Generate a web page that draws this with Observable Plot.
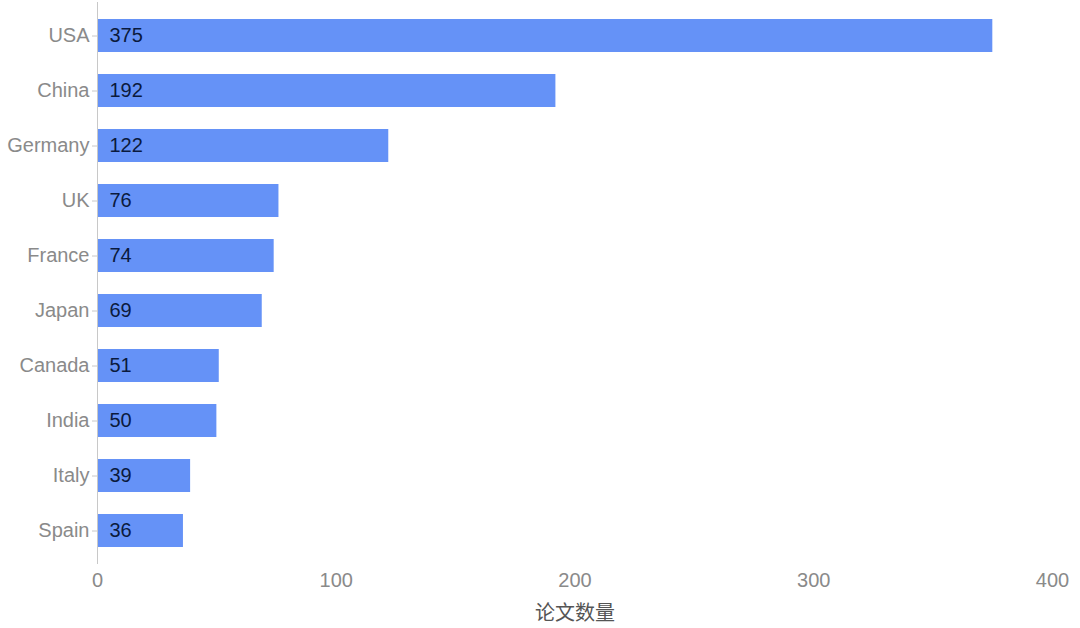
<!DOCTYPE html>
<html>
<head>
<meta charset="utf-8">
<script src="https://cdn.jsdelivr.net/npm/d3@7"></script>
<script src="https://cdn.jsdelivr.net/npm/@observablehq/plot@0.6"></script>
<style>
  html, body { margin: 0; padding: 0; background: #fff; }
  #chart { width: 1080px; height: 628px; }
</style>
</head>
<body>
<div id="chart"></div>
<script>
const countries = ["USA", "China", "Germany", "UK", "France", "Japan", "Canada", "India", "Italy", "Spain"];
const paperCounts = [375, 192, 122, 76, 74, 69, 51, 50, 39, 36];
const xTicks = [0, 100, 200, 300, 400];
const xLabel = "论文数量";

const data = countries.map((c, i) => ({country: c, count: paperCounts[i]}));

const chart = Plot.plot({
  width: 1080,
  height: 628,
  marginLeft: 97,
  marginRight: 28,
  marginTop: 2,
  marginBottom: 64,
  style: {fontFamily: "'Liberation Sans', 'Noto Sans CJK SC', Arial, sans-serif", fontSize: "20px", background: "#fff"},
  x: {domain: [0, 400], ticks: xTicks, label: null},
  y: {domain: countries, paddingInner: 0.4, paddingOuter: 0.25, label: null},
  marks: [
    Plot.barX(data, {x: "count", y: "country", fill: "#6592f7"}),
    Plot.ruleX([0], {stroke: "#c8c8c8", strokeWidth: 1}),
    Plot.axisY({tickSize: 5, tickPadding: 3, stroke: "#c8c8c8", color: "#8a8a8a", fontSize: 20, label: null}),
    Plot.axisX({ticks: xTicks, tickSize: 0, tickPadding: 8, color: "#8a8a8a", fontSize: 20, label: null}),
    Plot.text([xLabel], {frameAnchor: "bottom", dy: 55, text: d => d, fill: "#555", fontSize: 20, fontFamily: "'Noto Sans CJK SC', sans-serif"}),
    Plot.text(data, {x: 0, y: "country", text: d => String(d.count), textAnchor: "start", dx: 12, fill: "#0b1a3d", fontSize: 20})
  ]
});
document.getElementById("chart").appendChild(chart);
</script>
</body>
</html>
